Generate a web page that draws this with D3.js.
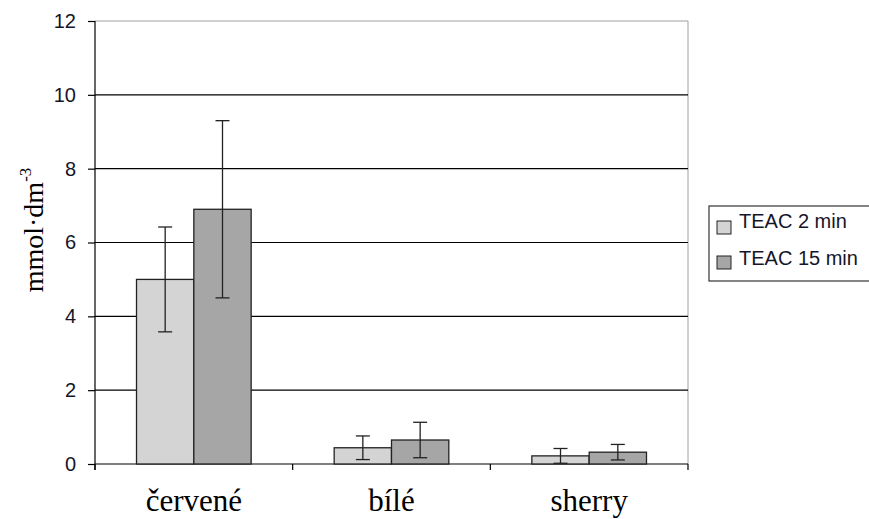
<!DOCTYPE html>
<html>
<head>
<meta charset="utf-8">
<script src="https://cdn.jsdelivr.net/npm/d3@7"></script>
<style>
  body { margin: 0; background: #fff; }
</style>
</head>
<body>
<div id="chart"></div>
<script>
var WIDTH = 869, HEIGHT = 519;

// data
var categories = ["červené", "bílé", "sherry"];
var seriesNames = ["TEAC 2 min", "TEAC 15 min"];
var teac2 = [5.0, 0.44, 0.22];
var teac2Err = [1.42, 0.32, 0.2];
var teac15 = [6.9, 0.65, 0.32];
var teac15Err = [2.4, 0.48, 0.21];
var yTicks = [0, 2, 4, 6, 8, 10, 12];
var colors = ["#d4d4d4", "#a6a6a6"];

var margin = {left: 95, top: 21, right: 688, bottom: 464};
var SANS = "Liberation Sans, Arial, sans-serif";
var SERIF = "Liberation Serif, Times New Roman, serif";

var svg = d3.select("#chart").append("svg")
    .attr("width", WIDTH)
    .attr("height", HEIGHT);

var x = d3.scaleBand().domain(categories).range([margin.left, margin.right]).padding(0);
var y = d3.scaleLinear().domain([0, 12]).range([margin.bottom, margin.top]);
var barW = x.bandwidth() * 0.29;

// plot border (gray)
svg.append("path")
    .attr("d", "M" + margin.left + "," + y(12) + "H" + margin.right + "V" + margin.bottom)
    .attr("fill", "none").attr("stroke", "#a0a0a0").attr("stroke-width", 1);

// grid lines
svg.append("g").selectAll("line").data(yTicks.filter(function (d) { return d > 0 && d < 12; }))
    .enter().append("line")
    .attr("x1", margin.left).attr("x2", margin.right)
    .attr("y1", function (d) { return y(d); }).attr("y2", function (d) { return y(d); })
    .attr("stroke", "#000").attr("stroke-width", 1.2);

// y axis
var yAxis = svg.append("g").attr("transform", "translate(" + margin.left + ",0)")
    .call(d3.axisLeft(y).tickValues(yTicks).tickSize(7).tickPadding(12).tickSizeOuter(0));
yAxis.select(".domain").remove();
yAxis.append("line").attr("x1", 0).attr("x2", 0).attr("y1", y(12)).attr("y2", margin.bottom + 6)
    .attr("stroke", "#000").attr("stroke-width", 1.2);
yAxis.selectAll(".tick line").attr("stroke", "#000").attr("stroke-width", 1.2);
yAxis.selectAll(".tick text")
    .style("font-family", SANS)
    .style("font-size", "20px").attr("fill", "#15152a");

// x axis
var xAxis = svg.append("g").attr("transform", "translate(0," + margin.bottom + ")");
xAxis.append("line").attr("x1", margin.left).attr("x2", margin.right)
    .attr("stroke", "#000").attr("stroke-width", 1.2);
xAxis.selectAll(".tk").data(categories.map(function (c) { return x(c); }).concat([margin.right]))
    .enter().append("line")
    .attr("x1", function (d) { return d; }).attr("x2", function (d) { return d; })
    .attr("y1", 0).attr("y2", 6).attr("stroke", "#000").attr("stroke-width", 1.2);
xAxis.selectAll(".lbl").data(categories).enter().append("text")
    .attr("x", function (d) { return x(d) + x.bandwidth() / 2; })
    .attr("y", 47)
    .attr("text-anchor", "middle")
    .style("font-family", SERIF)
    .style("font-size", "31px").attr("fill", "#000")
    .text(function (d) { return d; });

// y title
var yt = svg.append("text")
    .attr("transform", "translate(43,230) rotate(-90)")
    .attr("text-anchor", "middle")
    .style("font-family", SERIF)
    .style("font-size", "28px").attr("fill", "#000");
yt.append("tspan").text("mmol·dm");
yt.append("tspan").attr("dy", -12).style("font-size", "17px").text("-3");

// bars
var series = [teac2, teac15];
var errs = [teac2Err, teac15Err];
var cx = function (i, s) { return x(categories[i]) + x.bandwidth() / 2 + (s === 0 ? -barW : 0); };

series.forEach(function (vals, s) {
    var g = svg.append("g");
    g.selectAll("rect").data(vals).enter().append("rect")
        .attr("x", function (d, i) { return cx(i, s); })
        .attr("y", function (d) { return y(d); })
        .attr("width", barW)
        .attr("height", function (d) { return y(0) - y(d); })
        .attr("fill", colors[s]).attr("stroke", "#222").attr("stroke-width", 1.3);
});

// error bars
series.forEach(function (vals, s) {
    var g = svg.append("g").attr("stroke", "#222").attr("stroke-width", 1.3);
    vals.forEach(function (v, i) {
        var mx = cx(i, s) + barW / 2, e = errs[s][i];
        g.append("line").attr("x1", mx).attr("x2", mx).attr("y1", y(v + e)).attr("y2", y(v - e));
        g.append("line").attr("x1", mx - 7).attr("x2", mx + 7).attr("y1", y(v + e)).attr("y2", y(v + e));
        g.append("line").attr("x1", mx - 7).attr("x2", mx + 7).attr("y1", y(v - e)).attr("y2", y(v - e));
    });
});

// legend (runs past the right edge, as in the original)
var lg = svg.append("g").attr("transform", "translate(709,206)");
lg.append("rect").attr("width", 200).attr("height", 75)
    .attr("fill", "#fff").attr("stroke", "#333").attr("stroke-width", 1.2);
seriesNames.forEach(function (n, i) {
    lg.append("rect").attr("x", 8).attr("y", 15 + i * 35).attr("width", 14).attr("height", 13)
        .attr("fill", colors[i]).attr("stroke", "#222").attr("stroke-width", 1);
    lg.append("text").attr("x", 30).attr("y", 22 + i * 37)
        .style("font-family", SANS)
        .style("font-size", "20px").attr("fill", "#15152a").text(n);
});
</script>
</body>
</html>
